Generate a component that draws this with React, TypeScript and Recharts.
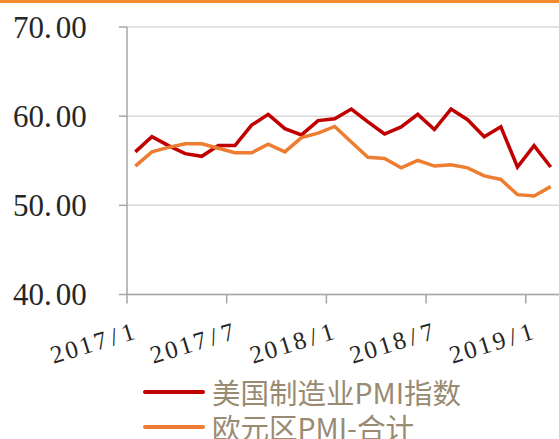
import { LineChart, Line, XAxis, YAxis, CartesianGrid } from 'recharts'

const months = [
  '2017/1', '2017/2', '2017/3', '2017/4', '2017/5', '2017/6',
  '2017/7', '2017/8', '2017/9', '2017/10', '2017/11', '2017/12',
  '2018/1', '2018/2', '2018/3', '2018/4', '2018/5', '2018/6',
  '2018/7', '2018/8', '2018/9', '2018/10', '2018/11', '2018/12',
  '2019/1', '2019/2',
]
const usPmi = [
  56.0, 57.7, 56.7, 55.8, 55.5, 56.7, 56.7, 59.0, 60.2, 58.6, 57.9, 59.5, 59.7,
  60.8, 59.35, 58.0, 58.8, 60.2, 58.5, 60.8, 59.6, 57.7, 58.8, 54.3, 56.7, 54.3,
]
const euroPmi = [
  54.4, 56.0, 56.5, 56.9, 56.9, 56.4, 55.9, 55.9, 56.85, 56.0, 57.6, 58.1, 58.85,
  57.1, 55.4, 55.25, 54.2, 55.05, 54.4, 54.55, 54.2, 53.3, 52.9, 51.2, 51.05, 52.1,
]
const yTicks = [40, 50, 60, 70]
const seriesNames = ['美国制造业PMI指数', '欧元区PMI-合计']

const W = 559
const H = 439
const PLOT_LEFT = 127
const PLOT_TOP = 27
const PLOT_BOTTOM = 294.5
const X_AXIS_H = 30
const BAND = (W - PLOT_LEFT) / months.length

const RED = '#C00000'
const ORANGE = '#ED7D31'
const AXIS = '#A6A6A6'
const GRID = '#D9D9D9'
const LABEL = '#262626'
const LEGEND_TEXT = '#998A72'
const SERIF = '"Liberation Serif", "DejaVu Serif", serif'

const data = months.map((m, i) => ({ month: m, us: usPmi[i], euro: euroPmi[i] }))

// excel style: tick marks sit between categories, label centred on category
function XTick({ x, y, payload }: any) {
  const edge = x - BAND / 2
  const tx = x + 1
  const ty = y + 44
  const [yr, mo] = String(payload.value).split('/')
  return (
    <g>
      <line x1={edge} x2={edge} y1={y} y2={y + 9} stroke={AXIS} strokeWidth={1.5} />
      <text
        x={tx}
        y={ty}
        textAnchor="end"
        transform={`rotate(-17, ${tx}, ${ty})`}
        fontFamily={SERIF}
        fontSize={25}
        fill={LABEL}
      >
        <tspan letterSpacing={2.5}>{yr}</tspan>
        <tspan dx={2}>/</tspan>
        <tspan dx={5}>{mo}</tspan>
      </text>
    </g>
  )
}

function YTick({ x, y, payload }: any) {
  const s = Number(payload.value).toFixed(2)
  const [a, b] = s.split('.')
  return (
    <text x={x - 74} y={y} dy="0.35em" textAnchor="start" fontFamily={SERIF} fontSize={31} fill={LABEL}>
      {a}.<tspan dx={4}>{b}</tspan>
    </text>
  )
}

function LegendRow({ color, label, top }: { color: string; label: string; top: number }) {
  return (
    <div style={{ position: 'absolute', left: 143, top, height: 30, display: 'flex', alignItems: 'center' }}>
      <div style={{ width: 62, height: 4, borderRadius: 2, background: color }} />
      <span
        style={{
          marginLeft: 7,
          fontFamily: '"Noto Sans CJK SC", sans-serif',
          fontSize: 28.5,
          lineHeight: '30px',
          color: LEGEND_TEXT,
          whiteSpace: 'nowrap',
        }}
      >
        {label}
      </span>
    </div>
  )
}

export default function App() {
  return (
    <div
      style={{
        position: 'absolute',
        left: 0,
        top: 0,
        width: W,
        height: H,
        overflow: 'hidden',
        background: '#fff',
      }}
    >
      <div style={{ position: 'absolute', left: 0, top: 0, width: W, height: 3, background: '#F28A30' }} />
      <LineChart
        width={W}
        height={H}
        data={data}
        margin={{ top: PLOT_TOP, right: 0, left: 0, bottom: H - PLOT_BOTTOM - X_AXIS_H }}
      >
        <CartesianGrid vertical={false} stroke={GRID} strokeWidth={1.5} />
        <XAxis
          dataKey="month"
          scale="band"
          interval={5}
          height={X_AXIS_H}
          tickSize={0}
          tickMargin={0}
          tickLine={false}
          axisLine={{ stroke: AXIS, strokeWidth: 1.5 }}
          tick={<XTick />}
        />
        <YAxis
          domain={[40, 70]}
          ticks={yTicks}
          width={PLOT_LEFT}
          tickSize={8}
          tickMargin={32}
          tickLine={{ stroke: AXIS, strokeWidth: 1.5 }}
          axisLine={{ stroke: AXIS, strokeWidth: 1.5 }}
          tick={<YTick />}
        />
        <Line dataKey="us" stroke={RED} strokeWidth={3.5} dot={false} isAnimationActive={false} />
        <Line dataKey="euro" stroke={ORANGE} strokeWidth={3.5} dot={false} isAnimationActive={false} />
      </LineChart>
      <LegendRow color={RED} label={seriesNames[0]} top={377} />
      <LegendRow color={ORANGE} label={seriesNames[1]} top={412} />
    </div>
  )
}
